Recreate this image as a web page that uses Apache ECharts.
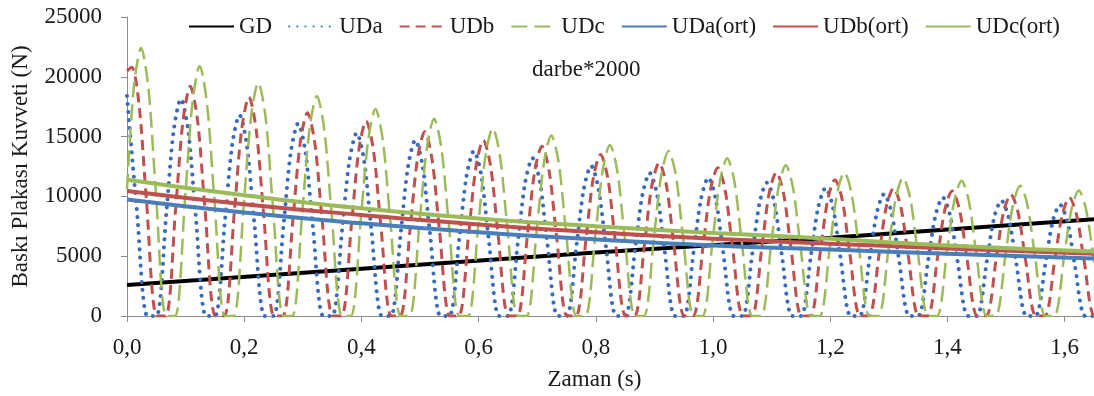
<!DOCTYPE html>
<html lang="tr">
<head>
    <meta charset="utf-8"/>
    <title>Baskı Plakası Kuvveti</title>
    <script src="https://cdn.jsdelivr.net/npm/echarts@6/dist/echarts.min.js"></script>
    <style>
        html, body { margin: 0; padding: 0; background: #fff; }
        #main { width: 1094px; height: 396px; }
    </style>
</head>
<body>
<div id="main"></div>
<script>
    // GD (duz cizgi)
    var gdT = [0, 0.4, 0.8, 1.2, 1.65];
    var gdV = [2600, 3950, 5300, 6550, 8100];

    // UDa: her periyot icin tepe, inis, inis ortasi, sifir, sifir, cikis ortasi, cikis
    var udaT = [0, 0.017, 0.035, 0.050, 0.067, 0.0795,
        0.092, 0.1045, 0.117, 0.135, 0.150, 0.167, 0.1795,
        0.192, 0.2045, 0.217, 0.235, 0.250, 0.267, 0.2795,
        0.292, 0.3045, 0.317, 0.335, 0.350, 0.367, 0.3795,
        0.392, 0.4045, 0.417, 0.435, 0.450, 0.467, 0.4795,
        0.492, 0.5045, 0.517, 0.535, 0.550, 0.567, 0.5795,
        0.592, 0.6045, 0.617, 0.635, 0.650, 0.667, 0.6795,
        0.692, 0.7045, 0.717, 0.735, 0.750, 0.767, 0.7795,
        0.792, 0.8045, 0.817, 0.835, 0.850, 0.867, 0.8795,
        0.892, 0.9045, 0.917, 0.935, 0.950, 0.967, 0.9795,
        0.992, 1.0045, 1.017, 1.035, 1.050, 1.067, 1.0795,
        1.092, 1.1045, 1.117, 1.135, 1.150, 1.167, 1.1795,
        1.192, 1.2045, 1.217, 1.235, 1.250, 1.267, 1.2795,
        1.292, 1.3045, 1.317, 1.335, 1.350, 1.367, 1.3795,
        1.392, 1.4045, 1.417, 1.435, 1.450, 1.467, 1.4795,
        1.492, 1.5045, 1.517, 1.535, 1.550, 1.567, 1.5795,
        1.592, 1.6045, 1.617, 1.635, 1.650, 1.667, 1.6795,
        1.692];
    var udaV = [18400, 8750, 0, 0, 8550, 15450,
        18150, 15450, 8550, 0, 0, 7900, 14300,
        16800, 14300, 7900, 0, 0, 7550, 13700,
        16100, 13700, 7550, 0, 0, 7200, 13000,
        15300, 13000, 7200, 0, 0, 6900, 12500,
        14700, 12500, 6900, 0, 0, 6500, 11750,
        13800, 11750, 6500, 0, 0, 6200, 11200,
        13200, 11200, 6200, 0, 0, 5900, 10650,
        12550, 10650, 5900, 0, 0, 5600, 10150,
        11950, 10150, 5600, 0, 0, 5450, 9800,
        11550, 9800, 5450, 0, 0, 5250, 9500,
        11150, 9500, 5250, 0, 0, 5050, 9100,
        10700, 9100, 5050, 0, 0, 4800, 8650,
        10200, 8650, 4800, 0, 0, 4650, 8400,
        9900, 8400, 4650, 0, 0, 4550, 8200,
        9650, 8200, 4550, 0, 0, 4350, 7900,
        9300, 7900, 4350, 0, 0, 4250, 7650,
        9000];

    var udbT = [0,
        0.008, 0.0205, 0.033, 0.051, 0.066, 0.083, 0.0955,
        0.108, 0.1205, 0.133, 0.151, 0.166, 0.183, 0.1955,
        0.208, 0.2205, 0.233, 0.251, 0.266, 0.283, 0.2955,
        0.308, 0.3205, 0.333, 0.351, 0.366, 0.383, 0.3955,
        0.408, 0.4205, 0.433, 0.451, 0.466, 0.483, 0.4955,
        0.508, 0.5205, 0.533, 0.551, 0.566, 0.583, 0.5955,
        0.608, 0.6205, 0.633, 0.651, 0.666, 0.683, 0.6955,
        0.708, 0.7205, 0.733, 0.751, 0.766, 0.783, 0.7955,
        0.808, 0.8205, 0.833, 0.851, 0.866, 0.883, 0.8955,
        0.908, 0.9205, 0.933, 0.951, 0.966, 0.983, 0.9955,
        1.008, 1.0205, 1.033, 1.051, 1.066, 1.083, 1.0955,
        1.108, 1.1205, 1.133, 1.151, 1.166, 1.183, 1.1955,
        1.208, 1.2205, 1.233, 1.251, 1.266, 1.283, 1.2955,
        1.308, 1.3205, 1.333, 1.351, 1.366, 1.383, 1.3955,
        1.408, 1.4205, 1.433, 1.451, 1.466, 1.483, 1.4955,
        1.508, 1.5205, 1.533, 1.551, 1.566, 1.583, 1.5955,
        1.608, 1.6205, 1.633, 1.651, 1.666, 1.683, 1.6955,
        1.708];
    var udbV = [20500,
        20800, 17700, 9800, 0, 0, 9000, 16300,
        19200, 16300, 9000, 0, 0, 8600, 15550,
        18300, 15550, 8600, 0, 0, 8000, 14450,
        17000, 14450, 8000, 0, 0, 7650, 13850,
        16300, 13850, 7650, 0, 0, 7250, 13100,
        15400, 13100, 7250, 0, 0, 6900, 12500,
        14700, 12500, 6900, 0, 0, 6650, 12050,
        14200, 12050, 6650, 0, 0, 6350, 11500,
        13500, 11500, 6350, 0, 0, 6000, 10900,
        12800, 10900, 6000, 0, 0, 5850, 10550,
        12400, 10550, 5850, 0, 0, 5650, 10200,
        12000, 10200, 5650, 0, 0, 5350, 9700,
        11400, 9700, 5350, 0, 0, 5050, 9100,
        10700, 9100, 5050, 0, 0, 4900, 8900,
        10450, 8900, 4900, 0, 0, 4750, 8650,
        10150, 8650, 4750, 0, 0, 4650, 8400,
        9900, 8400, 4650, 0, 0, 4500, 8150,
        9600];

    var udcT = [0, 0.0115,
        0.024, 0.0365, 0.049, 0.067, 0.082, 0.099, 0.1115,
        0.124, 0.1365, 0.149, 0.167, 0.182, 0.199, 0.2115,
        0.224, 0.2365, 0.249, 0.267, 0.282, 0.299, 0.3115,
        0.324, 0.3365, 0.349, 0.367, 0.382, 0.399, 0.4115,
        0.424, 0.4365, 0.449, 0.467, 0.482, 0.499, 0.5115,
        0.524, 0.5365, 0.549, 0.567, 0.582, 0.599, 0.6115,
        0.624, 0.6365, 0.649, 0.667, 0.682, 0.699, 0.7115,
        0.724, 0.7365, 0.749, 0.767, 0.782, 0.799, 0.8115,
        0.824, 0.8365, 0.849, 0.867, 0.882, 0.899, 0.9115,
        0.924, 0.9365, 0.949, 0.967, 0.982, 0.999, 1.0115,
        1.024, 1.0365, 1.049, 1.067, 1.082, 1.099, 1.1115,
        1.124, 1.1365, 1.149, 1.167, 1.182, 1.199, 1.2115,
        1.224, 1.2365, 1.249, 1.267, 1.282, 1.299, 1.3115,
        1.324, 1.3365, 1.349, 1.367, 1.382, 1.399, 1.4115,
        1.424, 1.4365, 1.449, 1.467, 1.482, 1.499, 1.5115,
        1.524, 1.5365, 1.549, 1.567, 1.582, 1.599, 1.6115,
        1.624, 1.6365, 1.649, 1.667];
    var udcV = [10600, 19050,
        22400, 19050, 10550, 0, 0, 9800, 17750,
        20900, 17750, 9800, 0, 0, 9150, 16600,
        19500, 16600, 9150, 0, 0, 8650, 15650,
        18400, 15650, 8650, 0, 0, 8150, 14700,
        17300, 14700, 8150, 0, 0, 7750, 14000,
        16500, 14000, 7750, 0, 0, 7400, 13350,
        15700, 13350, 7400, 0, 0, 7100, 12850,
        15100, 12850, 7100, 0, 0, 6700, 12150,
        14300, 12150, 6700, 0, 0, 6500, 11750,
        13800, 11750, 6500, 0, 0, 6200, 11200,
        13200, 11200, 6200, 0, 0, 5900, 10700,
        12600, 10700, 5900, 0, 0, 5650, 10200,
        12000, 10200, 5650, 0, 0, 5450, 9800,
        11550, 9800, 5450, 0, 0, 5300, 9600,
        11300, 9600, 5300, 0, 0, 5100, 9250,
        10900, 9250, 5100, 0, 0, 4950, 8900,
        10500, 8900, 4950, 0];

    // ortalama egriler
    var ortT = [0, 0.2, 0.4, 0.6, 0.8, 1.0, 1.2, 1.4, 1.65];
    var udaOrt = [9750, 8650, 7750, 7000, 6400, 5900, 5550, 5200, 4800];
    var udbOrt = [10450, 9350, 8450, 7650, 7000, 6450, 6050, 5650, 5200];
    var udcOrt = [11400, 10100, 9000, 8150, 7500, 6950, 6450, 5900, 5400];

    var names = ['GD', 'UDa', 'UDb', 'UDc', 'UDa(ort)', 'UDb(ort)', 'UDc(ort)'];

    function pairs(t, v) {
        var out = [];
        for (var i = 0; i < t.length; i++) out.push([t[i], v[i]]);
        return out;
    }

    var font = 'Liberation Serif, Times New Roman, serif';
    var myChart = echarts.init(document.getElementById('main'));
    var option = {
        animation: false,
        backgroundColor: '#fff',
        textStyle: { fontFamily: font },
        grid: { left: 127, right: 0, top: 17, bottom: 76 },
        legend: {
            data: names,
            left: 183,
            top: 10,
            itemWidth: 45,
            itemHeight: 14,
            itemGap: 16,
            itemStyle: { opacity: 0 },
            textStyle: { fontFamily: font, fontSize: 23, color: '#1a1a1a' }
        },
        graphic: [{
            type: 'text',
            left: 532,
            top: 58,
            style: { text: 'darbe*2000', font: '23px ' + font, fill: '#1a1a1a' }
        }],
        xAxis: {
            type: 'value',
            min: 0,
            max: 1.65,
            interval: 0.2,
            name: 'Zaman (s)',
            nameLocation: 'middle',
            nameGap: 52,
            nameTextStyle: { fontFamily: font, fontSize: 23, color: '#1a1a1a', padding: [0, 32, 0, 0] },
            axisLine: { show: true, lineStyle: { color: '#8c8c8c', width: 1 } },
            axisTick: { show: true, inside: false, length: 6, lineStyle: { color: '#8c8c8c' } },
            axisLabel: {
                fontFamily: font, fontSize: 23, color: '#1a1a1a', margin: 20,
                showMaxLabel: false,
                formatter: function (v) { return v.toFixed(1).replace('.', ','); }
            },
            splitLine: { show: false }
        },
        yAxis: {
            type: 'value',
            min: 0,
            max: 25000,
            interval: 5000,
            name: 'Baskı Plakası Kuvveti (N)',
            nameLocation: 'middle',
            nameRotate: 90,
            nameGap: 95,
            nameTextStyle: { fontFamily: font, fontSize: 23, color: '#1a1a1a' },
            axisLine: { show: true, lineStyle: { color: '#8c8c8c', width: 1 } },
            axisTick: { show: true, inside: false, length: 6, lineStyle: { color: '#8c8c8c' } },
            axisLabel: {
                fontFamily: font, fontSize: 23, color: '#1a1a1a', margin: 25,
                formatter: function (v) { return String(v); }
            },
            splitLine: { show: false }
        },
        series: [
            {
                name: 'GD', type: 'line', showSymbol: false, symbol: 'none',
                data: pairs(gdT, gdV),
                lineStyle: { color: '#000', width: 4 },
                itemStyle: { color: '#000' }
            },
            {
                name: 'UDa', type: 'line', showSymbol: false, symbol: 'none', smooth: 0.3,
                data: pairs(udaT, udaV),
                lineStyle: { color: '#3a6bbb', width: 4, type: [0.1, 8], cap: 'round' },
                itemStyle: { color: '#3a6bbb' }
            },
            {
                name: 'UDb', type: 'line', showSymbol: false, symbol: 'none', smooth: 0.3,
                data: pairs(udbT, udbV),
                lineStyle: { color: '#c0504d', width: 3, type: [10, 6] },
                itemStyle: { color: '#c0504d' }
            },
            {
                name: 'UDc', type: 'line', showSymbol: false, symbol: 'none', smooth: 0.3,
                data: pairs(udcT, udcV),
                lineStyle: { color: '#9bbb59', width: 2.5, type: [16, 7] },
                itemStyle: { color: '#9bbb59' }
            },
            {
                name: 'UDa(ort)', type: 'line', showSymbol: false, symbol: 'none', smooth: true,
                data: pairs(ortT, udaOrt),
                lineStyle: { color: '#4a7ebb', width: 4 },
                itemStyle: { color: '#4a7ebb' }
            },
            {
                name: 'UDb(ort)', type: 'line', showSymbol: false, symbol: 'none', smooth: true,
                data: pairs(ortT, udbOrt),
                lineStyle: { color: '#c0504d', width: 4 },
                itemStyle: { color: '#c0504d' }
            },
            {
                name: 'UDc(ort)', type: 'line', showSymbol: false, symbol: 'none', smooth: true,
                data: pairs(ortT, udcOrt),
                lineStyle: { color: '#9bbb59', width: 4 },
                itemStyle: { color: '#9bbb59' }
            }
        ]
    };
    myChart.setOption(option);
</script>
</body>
</html>
